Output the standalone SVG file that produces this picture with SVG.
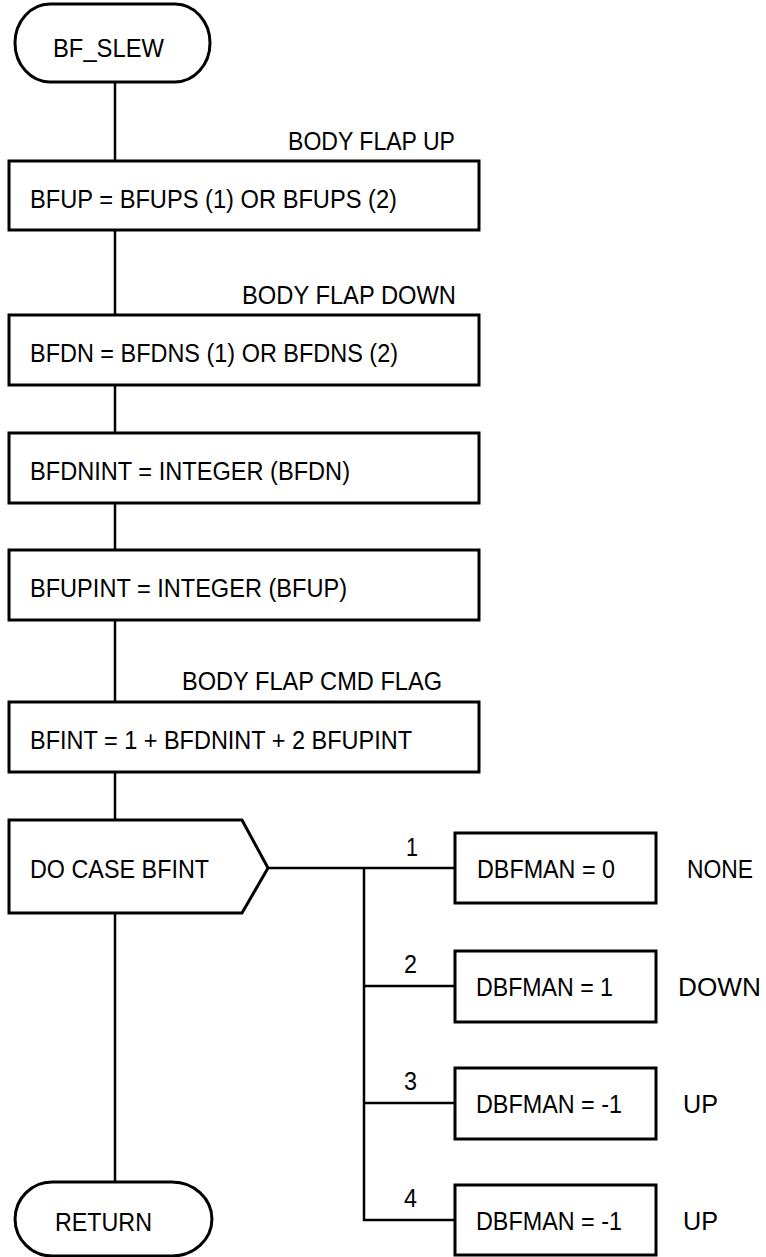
<svg xmlns="http://www.w3.org/2000/svg" width="766" height="1257" viewBox="0 0 766 1257">
<style>
.s{fill:#fff;stroke:#000;stroke-width:3;stroke-linejoin:miter}
.c{fill:none;stroke:#000;stroke-width:2.5}
.t{font-family:"Liberation Sans",Arial,sans-serif;font-size:26px;fill:#000}
</style>
<rect width="766" height="1257" fill="#fff"/>
<g id="connectors">
<line class="c" x1="115" y1="82" x2="115" y2="161"/>
<line class="c" x1="115" y1="230" x2="115" y2="315"/>
<line class="c" x1="115" y1="385" x2="115" y2="433"/>
<line class="c" x1="115" y1="503" x2="115" y2="550"/>
<line class="c" x1="115" y1="620" x2="115" y2="702"/>
<line class="c" x1="115" y1="772" x2="115" y2="820"/>
<line class="c" x1="115" y1="913" x2="115" y2="1182"/>
<line class="c" x1="268" y1="868" x2="455" y2="868"/>
<polyline class="c" points="364,868 364,1220 455,1220"/>
<line class="c" x1="364" y1="986" x2="455" y2="986"/>
<line class="c" x1="364" y1="1103" x2="455" y2="1103"/>
<text class="t" x="406" y="856" textLength="12" lengthAdjust="spacingAndGlyphs">1</text>
<text class="t" x="404" y="973" textLength="13" lengthAdjust="spacingAndGlyphs">2</text>
<text class="t" x="404" y="1090" textLength="13" lengthAdjust="spacingAndGlyphs">3</text>
<text class="t" x="404" y="1207" textLength="13" lengthAdjust="spacingAndGlyphs">4</text>
</g>
<g id="start">
<path class="s" d="M50,4 H175 A35,39 0 0 1 175,82 H50 A35,39 0 0 1 50,4 Z"/>
<text class="t" x="53" y="57" textLength="111" lengthAdjust="spacingAndGlyphs">BF_SLEW</text>
</g>
<g id="bfup">
<text class="t" x="288" y="150" textLength="167" lengthAdjust="spacingAndGlyphs">BODY FLAP UP</text>
<rect class="s" x="9" y="161" width="470" height="69"/>
<text class="t" x="30" y="208" textLength="367" lengthAdjust="spacingAndGlyphs">BFUP = BFUPS (1) OR BFUPS (2)</text>
</g>
<g id="bfdn">
<text class="t" x="242" y="304" textLength="214" lengthAdjust="spacingAndGlyphs">BODY FLAP DOWN</text>
<rect class="s" x="9" y="315" width="470" height="70"/>
<text class="t" x="30" y="362" textLength="368" lengthAdjust="spacingAndGlyphs">BFDN = BFDNS (1) OR BFDNS (2)</text>
</g>
<g id="bfdnint">
<rect class="s" x="9" y="433" width="470" height="70"/>
<text class="t" x="30" y="480" textLength="320" lengthAdjust="spacingAndGlyphs">BFDNINT = INTEGER (BFDN)</text>
</g>
<g id="bfupint">
<rect class="s" x="9" y="550" width="470" height="70"/>
<text class="t" x="30" y="597" textLength="317" lengthAdjust="spacingAndGlyphs">BFUPINT = INTEGER (BFUP)</text>
</g>
<g id="bfint">
<text class="t" x="182" y="690" textLength="260" lengthAdjust="spacingAndGlyphs">BODY FLAP CMD FLAG</text>
<rect class="s" x="9" y="702" width="470" height="70"/>
<text class="t" x="30" y="749" textLength="382" lengthAdjust="spacingAndGlyphs">BFINT = 1 + BFDNINT + 2 BFUPINT</text>
</g>
<g id="docase">
<path class="s" d="M9,820 H242 L268,868 L242,913 H9 Z"/>
<text class="t" x="30" y="878" textLength="179" lengthAdjust="spacingAndGlyphs">DO CASE BFINT</text>
</g>
<g id="case1">
<rect class="s" x="455" y="833" width="201" height="70"/>
<text class="t" x="477" y="878" textLength="138" lengthAdjust="spacingAndGlyphs">DBFMAN = 0</text>
<text class="t" x="687" y="878" textLength="66" lengthAdjust="spacingAndGlyphs">NONE</text>
</g>
<g id="case2">
<rect class="s" x="455" y="951" width="201" height="71"/>
<text class="t" x="476" y="996" textLength="137" lengthAdjust="spacingAndGlyphs">DBFMAN = 1</text>
<text class="t" x="678" y="996" textLength="83" lengthAdjust="spacingAndGlyphs">DOWN</text>
</g>
<g id="case3">
<rect class="s" x="455" y="1068" width="201" height="71"/>
<text class="t" x="476" y="1113" textLength="146" lengthAdjust="spacingAndGlyphs">DBFMAN = -1</text>
<text class="t" x="683" y="1113" textLength="35" lengthAdjust="spacingAndGlyphs">UP</text>
</g>
<g id="case4">
<rect class="s" x="455" y="1185" width="201" height="70"/>
<text class="t" x="476" y="1230" textLength="146" lengthAdjust="spacingAndGlyphs">DBFMAN = -1</text>
<text class="t" x="683" y="1230" textLength="35" lengthAdjust="spacingAndGlyphs">UP</text>
</g>
<g id="return">
<path class="s" d="M52,1182 H172 A40,37 0 0 1 172,1256 H52 A37,37 0 0 1 52,1182 Z"/>
<text class="t" x="55" y="1231" textLength="97" lengthAdjust="spacingAndGlyphs">RETURN</text>
</g>
</svg>
